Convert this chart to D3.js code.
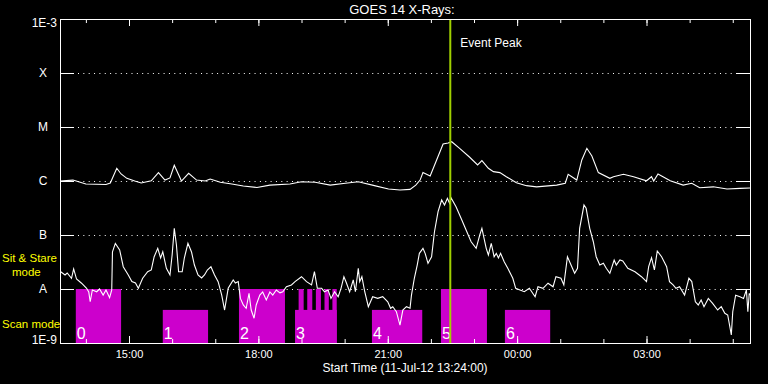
<!DOCTYPE html>
<html lang="en">
<head>
<meta charset="UTF-8">
<title>GOES 14 X-Rays</title>
<style>
  html, body { margin: 0; padding: 0; background: #000; }
  svg { display: block; }
  text { font-family: "Liberation Sans", Arial, sans-serif; fill: #fff; }
</style>
</head>
<body>
<svg id="chart" width="768" height="384"></svg>
<script src="https://d3js.org/d3.v7.min.js"></script>
<script>
// time window (16 h from start)
const startTime = new Date(2012, 6, 11, 13, 24);
const endTime = new Date(2012, 6, 12, 5, 24);
const peakTime = '22:27';

const levelNames = ['A', 'B', 'C', 'M', 'X'];
const levelFlux = [1e-8, 1e-7, 1e-6, 1e-5, 1e-4];

// long channel (1-8 A), minutes after start / W m^-2
const upperMinutes = [0, 18, 36, 64, 70, 79, 85, 93, 104, 113, 127, 137, 146, 153, 159, 169, 179, 190, 202, 209,
  223, 239, 255, 274, 292, 320, 336, 355, 376, 397, 415, 436, 457, 473, 487, 495, 501, 505, 515, 524,
  533, 540, 545, 556, 570, 581, 587, 596, 603, 612, 621, 635, 649, 663, 691, 703, 707, 719, 726, 733,
  740, 749, 765, 770, 784, 798, 816, 823, 826, 832, 849, 867, 879, 890, 909, 928, 946, 960];
const upperFlux = [1.0e-6, 1.04e-6, 8.8e-7, 8.6e-7, 9.2e-7, 1.72e-6, 1.35e-6, 1.12e-6, 1.0e-6, 9.2e-7,
  1.01e-6, 1.43e-6, 1.04e-6, 1.14e-6, 1.95e-6, 1.0e-6, 1.39e-6, 1.04e-6, 1.0e-6, 1.09e-6,
  9.5e-7, 8.8e-7, 8.1e-7, 7.6e-7, 8.4e-7, 8.8e-7, 9.7e-7, 9.5e-7, 8.4e-7, 9.1e-7,
  9.7e-7, 8.3e-7, 7.1e-7, 6.8e-7, 7.0e-7, 8.4e-7, 1.04e-6, 1.43e-6, 1.24e-6, 2.45e-6,
  4.84e-6, 5.05e-6, 5.34e-6, 4.03e-6, 2.75e-6, 1.98e-6, 2.38e-6, 1.72e-6, 1.49e-6, 1.43e-6,
  1.20e-6, 9.3e-7, 8.2e-7, 7.8e-7, 8.4e-7, 9.1e-7, 1.33e-6, 1.04e-6, 2.45e-6, 4.03e-6,
  2.9e-6, 1.43e-6, 1.12e-6, 1.20e-6, 1.33e-6, 1.20e-6, 1.01e-6, 1.2e-6, 1.0e-6, 1.35e-6,
  1.01e-6, 8.4e-7, 9.1e-7, 7.5e-7, 7.8e-7, 7.1e-7, 7.3e-7, 7.4e-7];

// short channel (0.5-4 A)
const lowerMinutes = [1, 7, 10, 16, 19, 23, 30, 37, 40, 42, 45, 51, 55, 60, 64, 69, 72, 73, 77, 83,
  88, 95, 100, 105, 109, 115, 122, 127, 131, 136, 140, 143, 148, 153, 156, 159, 162, 165, 170, 173,
  178, 183, 187, 192, 197, 201, 205, 210, 215, 220, 225, 229, 234, 241, 244, 248, 251, 255, 259, 263,
  266, 270, 273, 278, 282, 287, 292, 296, 301, 306, 310, 315, 322, 327, 336, 343, 350, 354, 358, 364,
  368, 373, 377, 382, 387, 391, 395, 398, 403, 408, 411, 415, 417, 420, 424, 429, 435, 442, 449, 456,
  460, 463, 468, 473, 477, 482, 487, 489, 493, 497, 500, 505, 508, 512, 517, 521, 526, 531, 535, 539,
  542, 544, 551, 558, 565, 572, 579, 584, 587, 590, 593, 596, 600, 604, 607, 610, 613, 618, 623, 630,
  634, 640, 646, 653, 661, 665, 672, 679, 686, 690, 697, 701, 706, 711, 716, 720, 723, 729, 732, 737,
  742, 746, 751, 756, 760, 765, 771, 774, 779, 783, 790, 800, 809, 816, 819, 823, 827, 831, 837, 844,
  848, 853, 857, 862, 869, 875, 879, 884, 888, 892, 896, 902, 908, 915, 920, 925, 929, 934, 936, 940,
  946, 951, 955, 957, 959, 960];
const lowerFlux = [2.09e-8, 1.82e-8, 1.98e-8, 1.58e-8, 2.35e-8, 1.53e-8, 1.28e-8, 1.03e-8, 8.8e-9, 5.8e-9,
  9.6e-9, 8.9e-9, 1.0e-8, 7.7e-9, 9.6e-9, 6.9e-9, 9.6e-9, 4.9e-8, 7.0e-8, 5.3e-8,
  2.59e-8, 1.82e-8, 1.37e-8, 1.29e-8, 1.03e-8, 1.58e-8, 2.09e-8, 2.25e-8, 3.96e-8, 5.67e-8,
  3.75e-8, 4.9e-8, 2.42e-8, 1.82e-8, 4.26e-8, 1.33e-7, 6.53e-8, 2.09e-8, 2.09e-8, 3.75e-8,
  7.0e-8, 4.84e-8, 2.78e-8, 1.82e-8, 1.60e-8, 1.82e-8, 2.25e-8, 2.59e-8, 1.82e-8, 1.37e-8,
  7.7e-9, 4.08e-9, 1.03e-8, 1.47e-8, 1.29e-8, 1.37e-8, 6.7e-9, 5.06e-9, 4.39e-9, 8.3e-9,
  4.08e-9, 2.87e-9, 5.06e-9, 7.7e-9, 8.8e-9, 6.25e-9, 8.8e-9, 7.7e-9, 9.6e-9, 8.5e-9,
  8.9e-9, 1.10e-8, 1.19e-8, 1.37e-8, 1.69e-8, 1.37e-8, 1.19e-8, 2.09e-8, 1.03e-8, 1.03e-8,
  8.9e-9, 9.6e-9, 6.7e-9, 8.9e-9, 7.2e-9, 1.03e-8, 1.69e-8, 1.35e-8, 8.9e-9, 1.47e-8,
  8.9e-9, 2.42e-8, 1.37e-8, 1.69e-8, 8.9e-9, 4.70e-9, 7.2e-9, 6.7e-9, 7.2e-9, 5.8e-9,
  4.39e-9, 4.70e-9, 3.80e-9, 2.15e-9, 4.08e-9, 4.70e-9, 4.39e-9, 7.7e-9, 1.58e-8, 2.78e-8,
  4.58e-8, 5.67e-8, 4.58e-8, 2.99e-8, 3.96e-8, 1.15e-7, 2.70e-7, 4.45e-7, 3.59e-7, 4.78e-7,
  3.86e-7, 4.91e-7, 3.34e-7, 2.04e-7, 1.24e-7, 7.5e-8, 5.67e-8, 1.0e-7, 1.33e-7, 8.7e-8,
  5.67e-8, 4.26e-8, 7.0e-8, 3.96e-8, 4.58e-8, 3.75e-8, 4.58e-8, 3.2e-8, 2.42e-8, 1.58e-8,
  1.03e-8, 9.6e-9, 8.9e-9, 1.03e-8, 7.2e-9, 1.10e-8, 1.03e-8, 1.28e-8, 1.10e-8, 1.69e-8,
  1.58e-8, 1.19e-8, 3.96e-8, 2.78e-8, 1.95e-8, 2.42e-8, 1.33e-7, 3.59e-7, 3.12e-7, 1.33e-7,
  7.5e-8, 3.96e-8, 2.78e-8, 2.99e-8, 2.42e-8, 1.95e-8, 3.44e-8, 2.78e-8, 3.44e-8, 3.30e-8,
  2.42e-8, 2.09e-8, 1.69e-8, 1.37e-8, 2.59e-8, 3.80e-8, 2.25e-8, 5.05e-8, 3.96e-8, 2.59e-8,
  1.37e-8, 1.19e-8, 1.03e-8, 1.10e-8, 7.7e-9, 1.58e-8, 1.37e-8, 5.8e-9, 5.06e-9, 6.25e-9,
  4.70e-9, 6.7e-9, 5.43e-9, 4.08e-9, 4.70e-9, 3.55e-9, 3.30e-9, 1.41e-9, 3.80e-9, 7.7e-9,
  7.2e-9, 6.7e-9, 9.6e-9, 3.80e-9, 8.3e-9, 7.7e-9];

// observing periods
const obsLabels = ['0', '1', '2', '3', '4', '5', '6'];
const obsStart = ['13:46', '15:47', '17:33', '18:51', '20:38', '22:14', '23:43'];
const obsEnd = ['14:49', '16:50', '18:37', '19:49', '21:48', '23:18', '00:46'];
const obsMode = ['stare', 'scan', 'stare', 'scan', 'scan', 'stare', 'scan'];
// sit & stare slots inside observation 3
const stareStart = ['18:56', '19:08', '19:20', '19:32', '19:43'];
const stareEnd = ['19:03', '19:15', '19:27', '19:38', '19:49'];

const modeTop = { stare: 1e-8, scan: 4.1e-9 };

const plotLeft = 60, plotRight = 750, plotTop = 19, plotBottom = 343;

function at(hhmm) {
  const [h, m] = hhmm.split(':').map(Number);
  return new Date(2012, 6, h < 12 ? 12 : 11, h, m);
}
const fromStart = m => d3.timeMinute.offset(startTime, m);

const svg = d3.select('#chart');
const x = d3.scaleTime().domain([startTime, endTime]).range([plotLeft, plotRight]);
const y = d3.scaleLog().domain([1e-9, 1e-3]).range([plotBottom, plotTop]);

svg.append('rect').attr('width', 768).attr('height', 384).attr('fill', '#000');

// dotted level lines
svg.append('g').selectAll('line').data(levelFlux).join('line')
  .attr('x1', plotLeft + 18).attr('x2', plotRight - 14)
  .attr('y1', d => y(d) + 0.5).attr('y2', d => y(d) + 0.5)
  .attr('stroke', '#fff').attr('stroke-dasharray', '1,4.35');

// observing blocks
const magenta = '#cc00cc';
const obs = obsStart.map((s, i) => ({ s: at(s), e: at(obsEnd[i]), mode: obsMode[i], label: obsLabels[i] }));
svg.append('g').selectAll('rect').data(obs).join('rect')
  .attr('x', d => x(d.s)).attr('width', d => x(d.e) - x(d.s))
  .attr('y', d => y(modeTop[d.mode])).attr('height', d => plotBottom - y(modeTop[d.mode]))
  .attr('fill', magenta);
svg.append('g').selectAll('rect').data(stareStart).join('rect')
  .attr('x', d => x(at(d))).attr('width', (d, i) => x(at(stareEnd[i])) - x(at(d)))
  .attr('y', y(modeTop.stare)).attr('height', plotBottom - y(modeTop.stare))
  .attr('fill', magenta);
svg.append('g').selectAll('text').data(obs).join('text')
  .attr('x', d => x(d.s) + 1).attr('y', plotBottom - 4)
  .attr('font-size', 16).text(d => d.label);

// curves
const line = d3.line().x(d => x(d.t)).y(d => y(d.f));
const upper = upperMinutes.map((m, i) => ({ t: fromStart(m), f: upperFlux[i] }));
const lower = lowerMinutes.map((m, i) => ({ t: fromStart(m), f: lowerFlux[i] }));
[upper, lower].forEach(series => {
  svg.append('path').datum(series)
    .attr('d', line)
    .attr('fill', 'none')
    .attr('stroke', '#fff')
    .attr('stroke-width', 1.1);
});

// event peak
svg.append('line')
  .attr('x1', x(at(peakTime))).attr('x2', x(at(peakTime)))
  .attr('y1', plotTop).attr('y2', plotBottom)
  .attr('stroke', '#a0d000').attr('stroke-width', 2);
svg.append('text').attr('x', x(at(peakTime)) + 10).attr('y', 47)
  .attr('font-size', 12).text('Event Peak');

// axes
const hourFmt = d3.timeFormat('%H:%M');
const axisColor = g => g.attr('color', '#fff').call(g => g.select('.domain').remove());

svg.append('g').attr('transform', `translate(0,${plotBottom})`)
  .call(d3.axisBottom(x).ticks(d3.timeHour.every(1)).tickSizeInner(-4).tickSizeOuter(0).tickFormat(''))
  .call(axisColor);
svg.append('g').attr('transform', `translate(0,${plotBottom})`)
  .call(d3.axisBottom(x).ticks(d3.timeHour.every(3)).tickSizeInner(-7).tickSizeOuter(0)
    .tickPadding(7).tickFormat(hourFmt))
  .call(axisColor)
  .call(g => g.selectAll('text').attr('font-size', 11).attr('font-family', '"Liberation Sans", Arial, sans-serif'));
svg.append('g').attr('transform', `translate(0,${plotTop})`)
  .call(d3.axisTop(x).ticks(d3.timeHour.every(1)).tickSizeInner(-4).tickSizeOuter(0).tickFormat(''))
  .call(axisColor);
svg.append('g').attr('transform', `translate(0,${plotTop})`)
  .call(d3.axisTop(x).ticks(d3.timeHour.every(3)).tickSizeInner(-7).tickSizeOuter(0).tickFormat(''))
  .call(axisColor);

svg.append('g').attr('transform', `translate(${plotLeft},0)`)
  .call(d3.axisLeft(y).tickValues(levelFlux).tickSizeInner(-14).tickSizeOuter(0)
    .tickFormat((d, i) => levelNames[i]))
  .call(axisColor)
  .call(g => g.selectAll('text').attr('x', -17).attr('text-anchor', 'middle')
    .attr('font-size', 12).attr('font-family', '"Liberation Sans", Arial, sans-serif'));
svg.append('g').attr('transform', `translate(${plotRight},0)`)
  .call(d3.axisRight(y).tickValues(levelFlux).tickSizeInner(-14).tickSizeOuter(0).tickFormat(''))
  .call(axisColor);

svg.append('rect')
  .attr('x', plotLeft + 0.5).attr('y', plotTop + 0.5)
  .attr('width', plotRight - plotLeft).attr('height', plotBottom - plotTop)
  .attr('fill', 'none').attr('stroke', '#fff');

svg.append('text').attr('x', 57).attr('y', 27).attr('text-anchor', 'end')
  .attr('font-size', 12).text('1E-3');
svg.append('text').attr('x', 57).attr('y', 344).attr('text-anchor', 'end')
  .attr('font-size', 12).text('1E-9');

// mode captions
const yellow = '#ffff00';
svg.append('text').attr('x', 2).attr('y', 262).attr('font-size', 11.5)
  .style('fill', yellow).text('Sit & Stare');
svg.append('text').attr('x', 12).attr('y', 276).attr('font-size', 11.5)
  .style('fill', yellow).text('mode');
svg.append('text').attr('x', 2).attr('y', 328).attr('font-size', 11.5)
  .style('fill', yellow).text('Scan mode');

// titles
svg.append('text').attr('x', 402).attr('y', 14).attr('text-anchor', 'middle')
  .attr('font-size', 13).text('GOES 14 X-Rays:');
svg.append('text').attr('x', 405).attr('y', 372).attr('text-anchor', 'middle')
  .attr('font-size', 12).text('Start Time (11-Jul-12 13:24:00)');
</script>
</body>
</html>
